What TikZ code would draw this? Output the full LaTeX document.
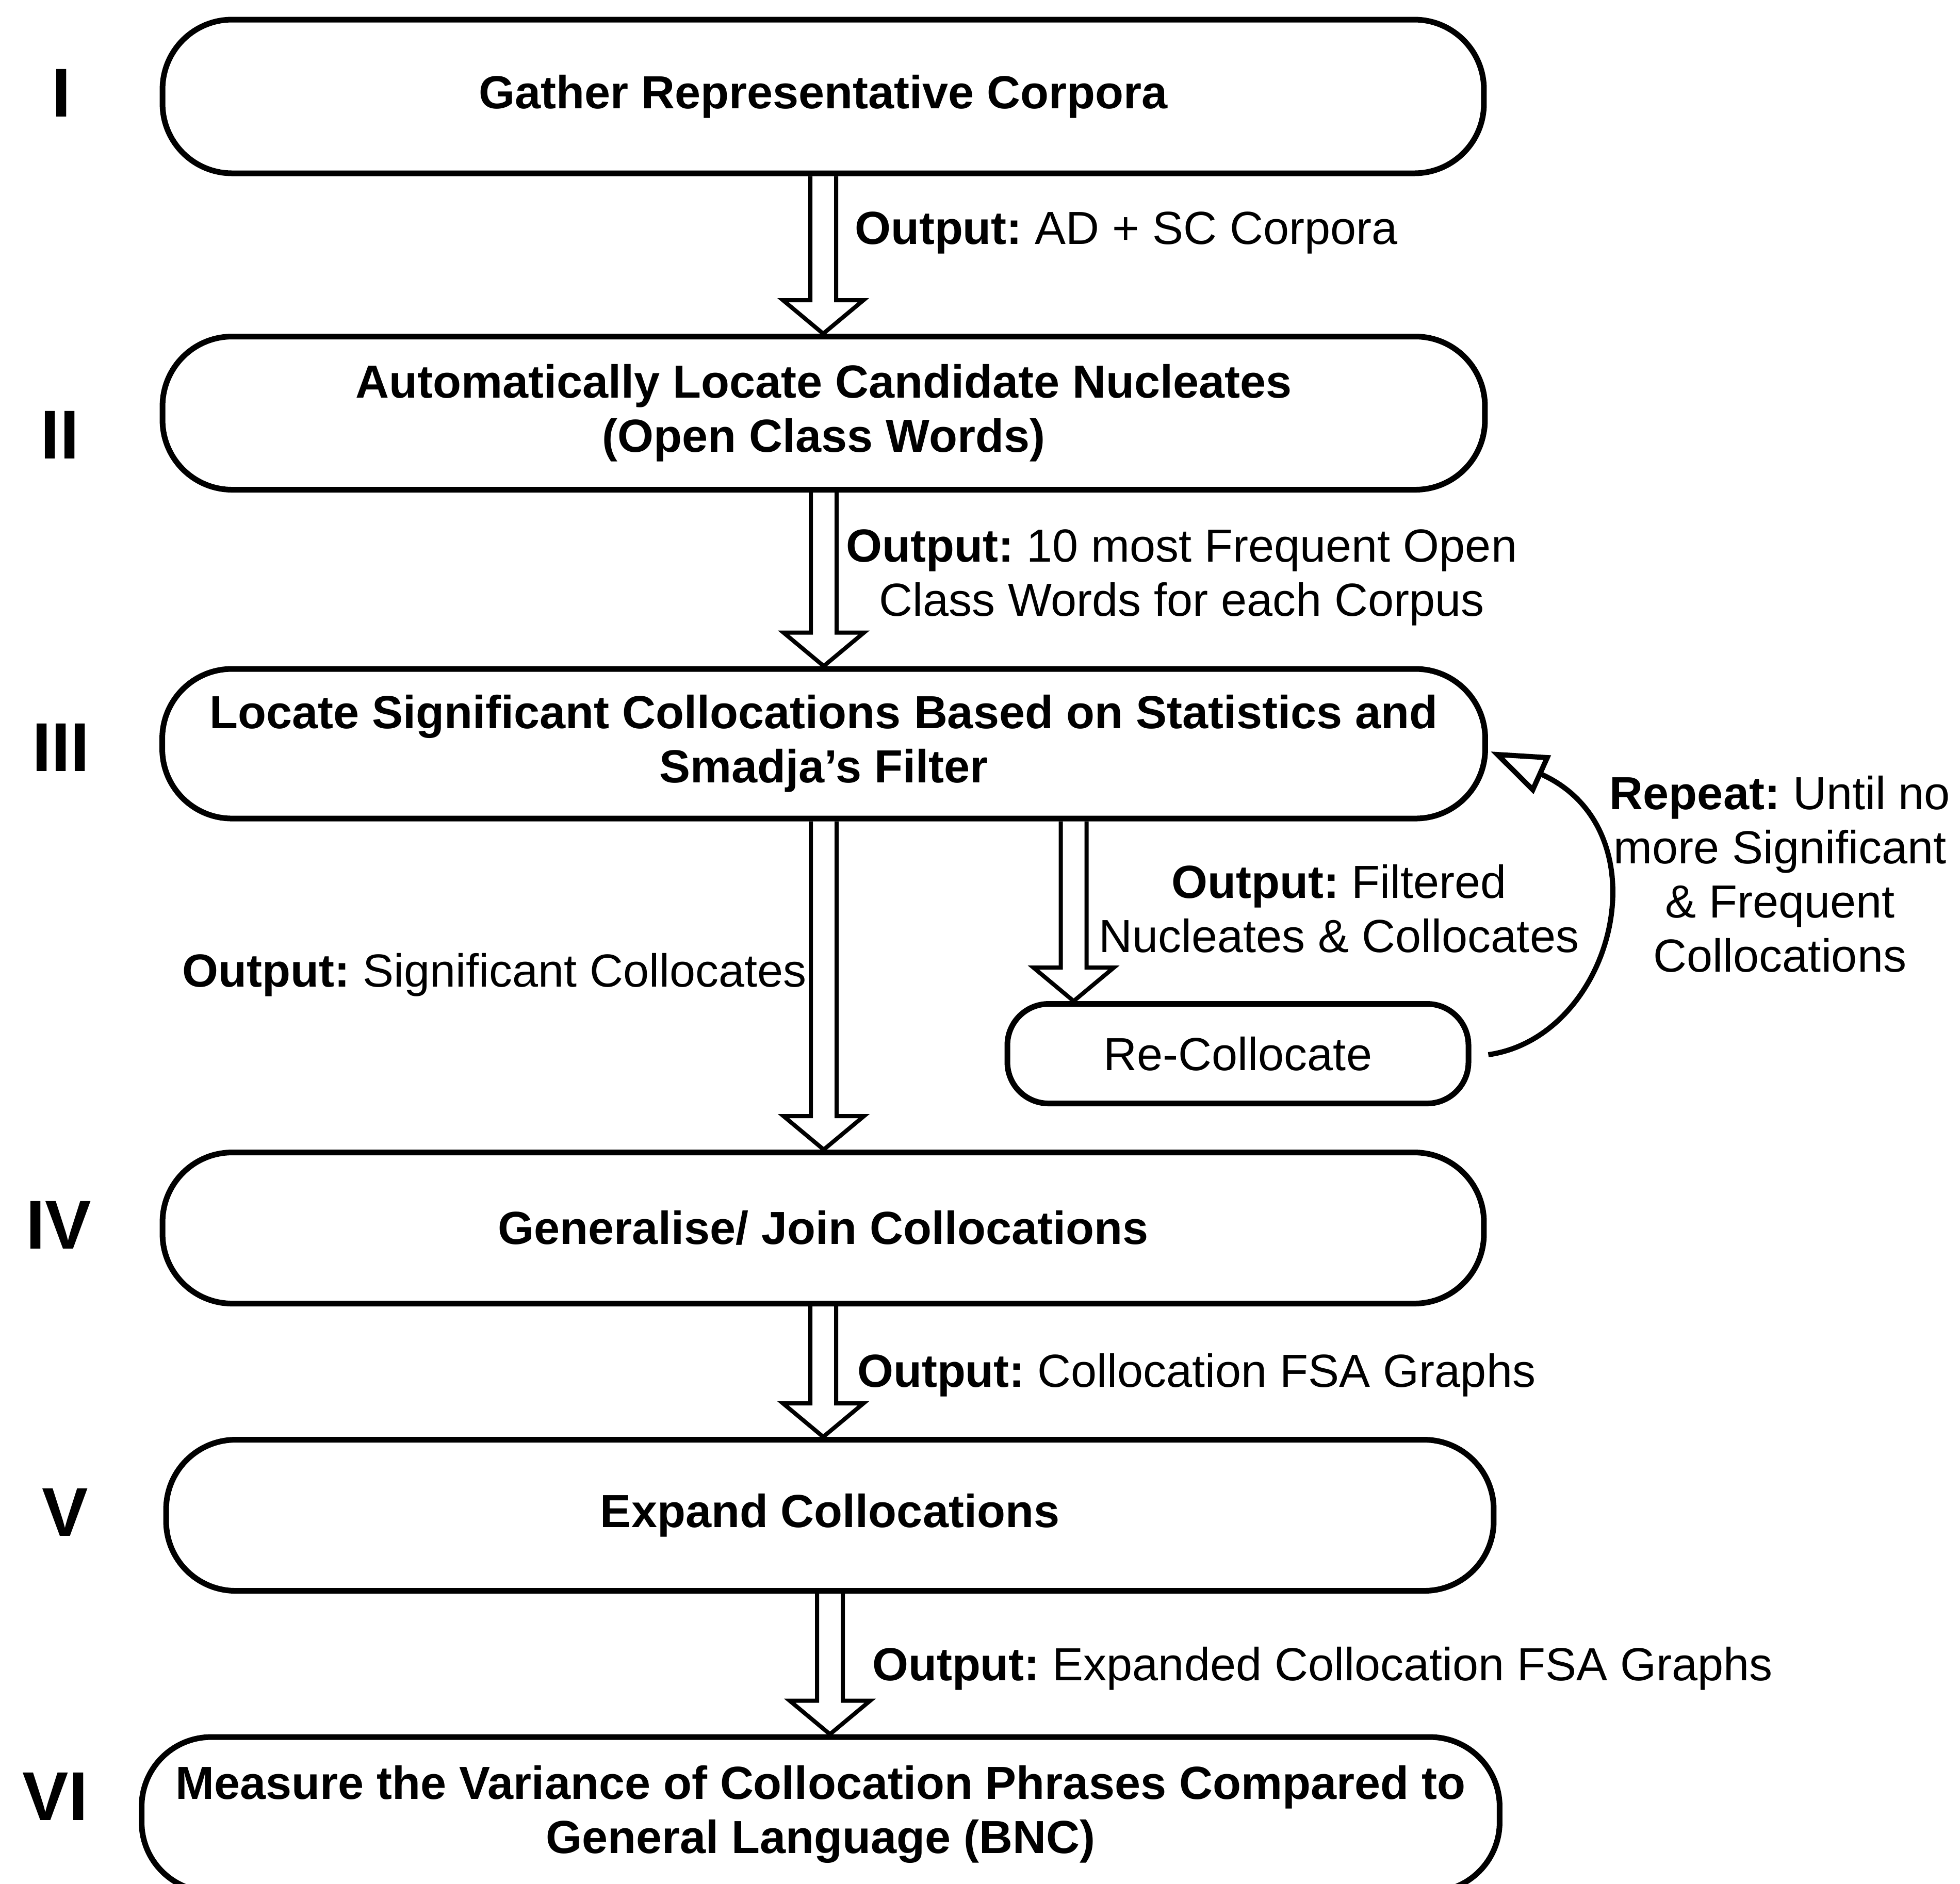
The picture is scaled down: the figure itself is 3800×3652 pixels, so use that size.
\documentclass[tikz,border=0pt]{standalone}
\usepackage{fontspec}
\setmainfont{Liberation Sans}
\usetikzlibrary{calc,arrows.meta}
\frenchspacing

% hollow block arrow: #1 start point (sets x), #2 point where the tip ends (sets y)
\newcommand\blockarrow[2]{%
  \draw[blockarrowline] let \p1=#1, \p2=#2 in
    (\x1-2.5pt,\y1) -- (\x1-2.5pt,\y2+6.5pt) -- (\x1-7.8pt,\y2+6.5pt) -- (\x1,\y2)
    -- (\x1+7.8pt,\y2+6.5pt) -- (\x1+2.5pt,\y2+6.5pt) -- (\x1+2.5pt,\y1);}

\begin{document}
\begin{tikzpicture}[x=0.1pt,y=-0.1pt,
  stage/.style={draw,line width=1.1pt,rounded corners=13.5pt,inner sep=0pt,align=center,
    font=\fontsize{9pt}{10.5pt}\selectfont\bfseries},
  numeral/.style={inner sep=0pt,font=\fontsize{13.4pt}{14pt}\selectfont\bfseries},
  lbl/.style={inner sep=0pt,align=center,font=\fontsize{9pt}{10.5pt}\selectfont},
  blockarrowline/.style={draw,line width=0.8pt,line join=miter},
  loopback/.style={line width=1pt,-{Triangle[open,length=11pt,width=8pt,line width=1pt]}}
]
\useasboundingbox (0,0) rectangle (3800,3652);
\clip (0,0) rectangle (3800,3652);

% stage boxes
\node[stage,minimum width=256.2pt,minimum height=29.8pt] (s1) at (1596,187)
  {Gather Representative Corpora};
\node[stage,minimum width=256.4pt,minimum height=29.7pt] (s2) at (1597,801)
  {Automatically Locate Candidate Nucleates\\(Open Class Words)};
\node[stage,minimum width=256.5pt,minimum height=29pt] (s3) at (1597,1442)
  {Locate Significant Collocations Based on Statistics and\\Smadja's Filter};
\node[stage,minimum width=89.4pt,minimum height=19.3pt,rounded corners=8pt,
  font=\fontsize{9pt}{10.5pt}\selectfont] (rc) at (2400,2043) {Re-Collocate};
\node[stage,minimum width=256.2pt,minimum height=29.3pt] (s4) at (1596,2381)
  {Generalise/ Join Collocations};
\node[stage,minimum width=257.4pt,minimum height=29.3pt] (s5) at (1609,2938)
  {Expand Collocations};
\node[stage,minimum width=263.3pt,minimum height=30pt] (s6) at (1591,3518)
  {Measure the Variance of Collocation Phrases Compared to\\General Language (BNC)};

% stage numbers
\node[numeral] (n1) at (119,180) {I};
\node[numeral] (n2) at (116,843) {II};
\node[numeral] (n3) at (118,1449) {III};
\node[numeral] (n4) at (114,2375) {IV};
\node[numeral] (n5) at (126,2932) {V};
\node[numeral] (n6) at (107,3483) {VI};

% flow between stages
\blockarrow{(s1.south)}{(s2.north)}
\blockarrow{(s2.south)}{(s3.north)}
\blockarrow{(s3.south)}{(s4.north)}
\blockarrow{($(s3.south -| rc.west)+(134,0)$)}{(rc.north)}
\blockarrow{(s4.south)}{(s5.north)}
\blockarrow{(s5.south)}{(s6.north)}

% repeat loop
\draw[loopback] ($(rc.east)+(33,2)$) .. controls (3130,2010) and (3230,1610) .. ($(s3.east)+(5,15)$);

% output labels
\node[lbl,anchor=west] (o1) at (1655,451) {\textbf{Output:} AD + SC Corpora};
\node[lbl] (o2) at (2291,1120) {\textbf{Output:} 10 most Frequent Open\\Class Words for each Corpus};
\node[lbl,anchor=east] (o3) at (1566,1890) {\textbf{Output:} Significant Collocates};
\node[lbl] (o4) at (2596,1762) {\textbf{Output:} Filtered\\Nucleates \& Collocates};
\node[lbl] (o5) at (3451,1695) {\textbf{Repeat:} Until no\\more Significant\\\& Frequent\\Collocations};
\node[lbl,anchor=west] (o6) at (1660,2666) {\textbf{Output:} Collocation FSA Graphs};
\node[lbl,anchor=west] (o7) at (1689,3235) {\textbf{Output:} Expanded Collocation FSA Graphs};
\end{tikzpicture}
\end{document}
